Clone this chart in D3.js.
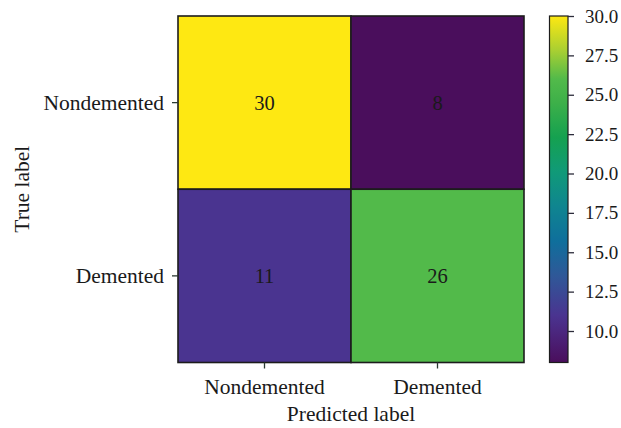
<!DOCTYPE html>
<html>
<head>
<meta charset="utf-8">
<script src="https://cdn.jsdelivr.net/npm/d3@7"></script>
<style>
  html, body { margin: 0; padding: 0; background: #fff; }
  svg text { font-family: "Liberation Serif", "Times New Roman", serif; fill: #1a1a1a; }
</style>
</head>
<body>
<svg id="chart" width="621" height="428"></svg>
<script>
// Confusion matrix: rows = true label, columns = predicted label
const classes = ["Nondemented", "Demented"];
const matrixRows = [
  [30, 8],
  [11, 26]
];
const colorbarTicks = [10.0, 12.5, 15.0, 17.5, 20.0, 22.5, 25.0, 27.5, 30.0];
const colorMin = 8, colorMax = 30;

// Viridis-style ramp (position 0..1 -> colour)
const rampStops = [0, 0.1, 0.136, 0.25, 0.35, 0.45, 0.55, 0.65, 0.75, 0.818, 0.9, 1];
const rampColors = ["#4a0e5c", "#4b2a83", "#4a3490", "#2f5898", "#0f6f9c", "#0f8590",
                    "#109a78", "#15a150", "#3db049", "#52ba4a", "#a8cf32", "#fee812"];
const FONT = 21.5;
const CB_FONT = 19;

const svg = d3.select("#chart");
const plot = { left: 178, top: 16, right: 524, bottom: 362.5 };

const x = d3.scaleBand().domain(classes).range([plot.left, plot.right]);
const y = d3.scaleBand().domain(classes).range([plot.top, plot.bottom]);
const ramp = d3.scaleLinear().domain(rampStops).range(rampColors).interpolate(d3.interpolateRgb);
const color = d3.scaleLinear().domain([colorMin, colorMax]).range([0, 1]);
const fill = v => ramp(color(v));

const cells = [];
matrixRows.forEach((row, i) => row.forEach((v, j) => cells.push({ t: classes[i], p: classes[j], v })));

const g = svg.append("g");
g.selectAll("rect.cell").data(cells).join("rect")
  .attr("class", "cell")
  .attr("x", d => x(d.p)).attr("y", d => y(d.t))
  .attr("width", x.bandwidth()).attr("height", y.bandwidth())
  .attr("fill", d => fill(d.v))
  .attr("stroke", "#1c1c1c").attr("stroke-width", 1.6);

g.selectAll("text.val").data(cells).join("text")
  .attr("class", "val")
  .attr("x", d => x(d.p) + x.bandwidth() / 2)
  .attr("y", d => y(d.t) + y.bandwidth() / 2)
  .attr("text-anchor", "middle").attr("dominant-baseline", "central")
  .attr("font-size", 20.5)
  .text(d => d.v);

// Axes
const xAxis = svg.append("g").attr("transform", `translate(0,${plot.bottom})`)
  .call(d3.axisBottom(x).tickSize(6).tickPadding(10));
const yAxis = svg.append("g").attr("transform", `translate(${plot.left},0)`)
  .call(d3.axisLeft(y).tickSize(6).tickPadding(8));
[xAxis, yAxis].forEach(a => {
  a.select(".domain").remove();
  a.selectAll(".tick line").attr("stroke", "#2b3a33").attr("stroke-width", 1.3);
  a.selectAll(".tick text").attr("font-size", FONT).attr("fill", "#1a1a1a")
    .style("font-family", "'Liberation Serif', serif");
});

svg.append("text")
  .attr("x", (plot.left + plot.right) / 2).attr("y", 421)
  .attr("text-anchor", "middle").attr("font-size", FONT)
  .text("Predicted label");
svg.append("text")
  .attr("transform", `translate(29,${(plot.top + plot.bottom) / 2}) rotate(-90)`)
  .attr("text-anchor", "middle").attr("font-size", FONT)
  .text("True label");

// Colorbar
const cb = { left: 549.5, width: 18.5, top: plot.top, bottom: plot.bottom };
const cy = d3.scaleLinear().domain([colorMin, colorMax]).range([cb.bottom, cb.top]);
const grad = svg.append("defs").append("linearGradient")
  .attr("id", "cbgrad").attr("x1", 0).attr("y1", 1).attr("x2", 0).attr("y2", 0);
rampStops.forEach((t, i) => {
  grad.append("stop").attr("offset", t).attr("stop-color", rampColors[i]);
});
svg.append("rect")
  .attr("x", cb.left).attr("y", cb.top)
  .attr("width", cb.width).attr("height", cb.bottom - cb.top)
  .attr("fill", "url(#cbgrad)")
  .attr("stroke", "#1c1c1c").attr("stroke-width", 1.2);

const cbAxis = svg.append("g").attr("transform", `translate(${cb.left + cb.width},0)`)
  .call(d3.axisRight(cy).tickValues(colorbarTicks).tickFormat(d3.format(".1f")).tickSize(6).tickPadding(11));
cbAxis.select(".domain").remove();
cbAxis.selectAll(".tick line").attr("stroke", "#2b2b3a").attr("stroke-width", 1.3);
cbAxis.selectAll(".tick text").attr("font-size", CB_FONT).attr("fill", "#1a1a1a")
  .style("font-family", "'Liberation Serif', serif");
</script>
</body>
</html>
